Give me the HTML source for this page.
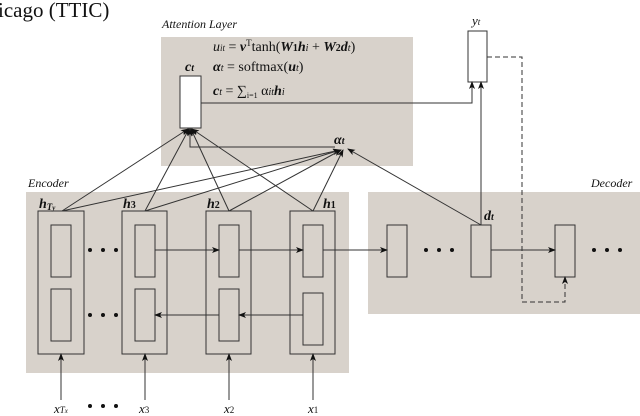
<!DOCTYPE html>
<html><head><style>
body{margin:0;background:#fff;}
svg{display:block}
text{font-family:"Liberation Serif",serif;fill:#111}
.it{font-style:italic}
.b{font-weight:bold;font-style:italic}
</style></head><body>
<svg width="640" height="416" viewBox="0 0 640 416" xmlns="http://www.w3.org/2000/svg">
<defs><marker id="a" markerWidth="8" markerHeight="6" refX="7" refY="3" orient="auto" markerUnits="userSpaceOnUse"><path d="M0,0L8,3L0,6L2,3z" fill="#111"/></marker></defs>
<text x="-2" y="17" font-size="21">icago (TTIC)</text>
<rect x="161" y="37" width="252" height="129" fill="#d8d2cb"/>
<rect x="26" y="192" width="323" height="181" fill="#d8d2cb"/>
<rect x="368" y="192" width="272" height="122" fill="#d8d2cb"/>
<text x="162" y="28" font-size="12" class="it">Attention Layer</text>
<text x="28" y="187" font-size="12" class="it">Encoder</text>
<text x="591" y="187" font-size="12" class="it">Decoder</text>
<text x="213" y="51" font-size="14"><tspan class="it">u</tspan><tspan font-size="9" class="it">it</tspan> = <tspan class="b">v</tspan><tspan font-size="9" dy="-5">T</tspan><tspan dy="5">tanh(</tspan><tspan class="b">W</tspan><tspan font-size="10" font-weight="bold">1</tspan><tspan class="b">h</tspan><tspan font-size="10" class="it">i</tspan> + <tspan class="b">W</tspan><tspan font-size="10" font-weight="bold">2</tspan><tspan class="b">d</tspan><tspan font-size="10" class="it">t</tspan>)</text>
<text x="213" y="71" font-size="14"><tspan class="b">α</tspan><tspan font-size="10" class="it">t</tspan> = softmax(<tspan class="b">u</tspan><tspan font-size="10" class="it">t</tspan>)</text>
<text x="213" y="95" font-size="14"><tspan class="b">c</tspan><tspan font-size="10" class="it">t</tspan> = ∑<tspan font-size="8" dy="3">i=1</tspan><tspan dy="-3"> α</tspan><tspan font-size="10" class="it">it</tspan><tspan class="b">h</tspan><tspan font-size="10" class="it">i</tspan></text>
<text x="185" y="71" font-size="14" class="b">c<tspan font-size="10">t</tspan></text>
<text x="334" y="144" font-size="14" class="b">α<tspan font-size="10">t</tspan></text>
<g fill="none" stroke="#333" stroke-width="1">
<rect x="180" y="76" width="21" height="52" fill="#fff"/>
<rect x="468" y="31" width="19" height="51" fill="#fff"/>
<rect x="38" y="211" width="46" height="143"/><rect x="51" y="225" width="20" height="52"/><rect x="51" y="289" width="20" height="52"/>
<rect x="122" y="211" width="45" height="143"/><rect x="135" y="225" width="20" height="52"/><rect x="135" y="289" width="20" height="52"/>
<rect x="206" y="211" width="45" height="143"/><rect x="219" y="225" width="20" height="52"/><rect x="219" y="289" width="20" height="52"/>
<rect x="290" y="211" width="45" height="143"/><rect x="303" y="225" width="20" height="52"/><rect x="303" y="293" width="20" height="52"/>
<rect x="387" y="225" width="20" height="52"/><rect x="471" y="225" width="20" height="52"/><rect x="555" y="225" width="20" height="52"/>
<g marker-end="url(#a)">
<line x1="155" y1="250" x2="219" y2="250"/><line x1="239" y1="250" x2="303" y2="250"/><line x1="323" y1="250" x2="387" y2="250"/>
<line x1="303" y1="315" x2="239" y2="315"/><line x1="219" y1="315" x2="155" y2="315"/>
<line x1="491" y1="250" x2="555" y2="250"/>
<line x1="61" y1="400" x2="61" y2="354"/><line x1="145" y1="400" x2="145" y2="354"/><line x1="229" y1="400" x2="229" y2="354"/><line x1="313" y1="400" x2="313" y2="354"/>
<polyline points="201,103 472,103 472,82"/>
<line x1="481" y1="225" x2="481" y2="82"/>
<polyline points="335,147 190,147 190,129"/>
<line x1="62" y1="211" x2="188" y2="129"/><line x1="145" y1="211" x2="189" y2="129"/><line x1="229" y1="211" x2="191" y2="129"/><line x1="313" y1="211" x2="192" y2="129"/>
<line x1="62" y1="211" x2="340" y2="150"/><line x1="145" y1="211" x2="340" y2="150"/><line x1="229" y1="211" x2="341" y2="150"/><line x1="313" y1="211" x2="343" y2="150"/>
<line x1="481" y1="225" x2="348" y2="149"/>
<polyline points="487,57 522,57 522,302 565,302 565,277" stroke-dasharray="5,3"/>
</g></g>
<g fill="#111">
<circle cx="90" cy="250" r="2"/><circle cx="103" cy="250" r="2"/><circle cx="116" cy="250" r="2"/>
<circle cx="90" cy="315" r="2"/><circle cx="103" cy="315" r="2"/><circle cx="116" cy="315" r="2"/>
<circle cx="90" cy="406" r="2"/><circle cx="103" cy="406" r="2"/><circle cx="116" cy="406" r="2"/>
<circle cx="426" cy="250" r="2"/><circle cx="439" cy="250" r="2"/><circle cx="452" cy="250" r="2"/>
<circle cx="594" cy="250" r="2"/><circle cx="607" cy="250" r="2"/><circle cx="620" cy="250" r="2"/>
</g>
<text x="39" y="208" font-size="14" class="b">h<tspan font-size="9" dy="2">T<tspan font-size="7">y</tspan></tspan></text>
<text x="123" y="208" font-size="14" class="b">h<tspan font-size="10" font-style="normal">3</tspan></text>
<text x="207" y="208" font-size="14" class="b">h<tspan font-size="10" font-style="normal">2</tspan></text>
<text x="323" y="208" font-size="14" class="b">h<tspan font-size="10" font-style="normal">1</tspan></text>
<text x="484" y="220" font-size="14" class="b">d<tspan font-size="10">t</tspan></text>
<text x="472" y="25" font-size="13" class="it">y<tspan font-size="9">t</tspan></text>
<text x="54" y="413" font-size="13" class="it">x<tspan font-size="9">T<tspan font-size="7">x</tspan></tspan></text>
<text x="139" y="413" font-size="13" class="it">x<tspan font-size="9" font-style="normal">3</tspan></text>
<text x="224" y="413" font-size="13" class="it">x<tspan font-size="9" font-style="normal">2</tspan></text>
<text x="308" y="413" font-size="13" class="it">x<tspan font-size="9" font-style="normal">1</tspan></text>
</svg>
</body></html>
